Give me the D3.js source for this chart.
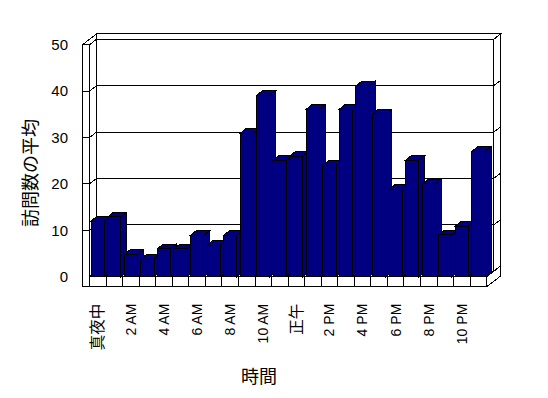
<!DOCTYPE html>
<meta charset="utf-8">
<style>
body { margin: 0; background: #fff; }
svg { display: block; }
.frame, .bar { shape-rendering: crispEdges; }
</style>
<body>
<svg id="chart"></svg>
<script src="https://d3js.org/d3.v7.min.js"></script>
<script>
// hours of the day (every other one gets a label)
var categories = ["真夜中", "1 AM", "2 AM", "3 AM", "4 AM", "5 AM", "6 AM", "7 AM", "8 AM", "9 AM", "10 AM", "11 AM",
                  "正午", "1 PM", "2 PM", "3 PM", "4 PM", "5 PM", "6 PM", "7 PM", "8 PM", "9 PM", "10 PM", "11 PM"];
// average visits per hour
var values = [12.0, 12.9, 4.8, 3.8, 6.0, 6.0, 8.9, 6.8, 8.9, 30.9, 39.1, 25.1,
              26.0, 36.1, 24.0, 36.1, 41.1, 35.1, 18.8, 25.1, 20.0, 9.0, 10.9, 27.0];
var yTicks = [0, 10, 20, 30, 40, 50];

var width = 548, height = 398;
var depth = {dx: 7, dy: -5.4};     // front plane -> back wall
var barDepth = {dx: 6, dy: -4.8};
var wallT = 7, floorT = 10;
var font = "'Liberation Sans', Arial, 'Noto Sans CJK JP', sans-serif";
var cjkFont = "'Noto Sans CJK JP', sans-serif";

var data = categories.map(function(c, i) { return {cat: c, v: values[i]}; });

var x = d3.scaleBand()
    .domain(categories)
    .range([89.5, 486.7])
    .paddingInner(0.2)
    .paddingOuter(0.1);

var y = d3.scaleLinear()
    .domain([0, 50])
    .range([276.7, 44.7]);

var svg = d3.select("#chart")
    .attr("width", width)
    .attr("height", height);

var x0 = x.range()[0], x1 = x.range()[1];
var yTop = y(50), yBase = y(0);
var dx = depth.dx, dy = depth.dy;

function poly(g, pts, fill) {
  return g.append("polygon")
    .attr("points", pts.map(function(p) { return p.join(","); }).join(" "))
    .attr("fill", fill)
    .attr("stroke", "#000")
    .attr("stroke-width", 1);
}

var frame = svg.append("g").attr("class", "frame");

// back wall face
poly(frame, [[x0 + dx, yTop + dy], [x1 + dx, yTop + dy], [x1 + dx, yBase + dy], [x0 + dx, yBase + dy]], "#fff");
// back wall top edge
poly(frame, [[x0 + dx, yTop + dy], [x1 + dx, yTop + dy], [x1 + 2 * dx, yTop + 2 * dy], [x0 - wallT + 2 * dx, yTop + 2 * dy]], "#fff");
// back wall right edge
poly(frame, [[x1 + dx, yTop + dy], [x1 + 2 * dx, yTop + 2 * dy], [x1 + 2 * dx, yBase + 2 * dy], [x1 + dx, yBase + dy]], "#fff");

// gridlines on back wall + little ticks on its right edge
yTicks.filter(function(t) { return t > 0 && t < 50; }).forEach(function(t) {
  frame.append("line")
    .attr("x1", x0 + dx).attr("x2", x1 + dx)
    .attr("y1", y(t) + dy).attr("y2", y(t) + dy)
    .attr("stroke", "#000");
  frame.append("line")
    .attr("x1", x1 + dx).attr("x2", x1 + 2 * dx)
    .attr("y1", y(t) + dy).attr("y2", y(t) + 2 * dy)
    .attr("stroke", "#000");
});

// left wall: top, inner side, front face
poly(frame, [[x0 - wallT, yTop], [x0, yTop], [x0 + dx, yTop + dy], [x0 - wallT + 2 * dx, yTop + 2 * dy]], "#fff");
poly(frame, [[x0, yTop], [x0 + dx, yTop + dy], [x0 + dx, yBase + dy], [x0, yBase]], "#fff");
poly(frame, [[x0 - wallT, yTop], [x0, yTop], [x0, yBase + floorT], [x0 - wallT, yBase + floorT]], "#fff");

yTicks.filter(function(t) { return t > 0 && t < 50; }).forEach(function(t) {
  frame.append("line")
    .attr("x1", x0 - wallT).attr("x2", x0)
    .attr("y1", y(t)).attr("y2", y(t))
    .attr("stroke", "#000");
  frame.append("line")
    .attr("x1", x0).attr("x2", x0 + dx)
    .attr("y1", y(t)).attr("y2", y(t) + dy)
    .attr("stroke", "#000");
});

// floor: top, front, right side
poly(frame, [[x0, yBase], [x1, yBase], [x1 + dx, yBase + dy], [x0 + dx, yBase + dy]], "#fff");
poly(frame, [[x0, yBase], [x1, yBase], [x1, yBase + floorT], [x0, yBase + floorT]], "#fff");
poly(frame, [[x1, yBase], [x1 + 2 * dx, yBase + 2 * dy], [x1 + 2 * dx, yBase + 2 * dy + floorT], [x1, yBase + floorT]], "#fff");

// category dividers on the floor edge
d3.range(1, categories.length).forEach(function(i) {
  var bx = x(categories[i]) - x.step() * x.paddingInner() / 2 - x.step() * 0.0;
  var b = x0 + i * x.step();
  frame.append("line")
    .attr("x1", b).attr("x2", b)
    .attr("y1", yBase).attr("y2", yBase + floorT)
    .attr("stroke", "#000");
});

// bars, left to right so each front hides the previous side
var bw = x.bandwidth();
var bars = svg.append("g").attr("class", "bar");
data.forEach(function(d) {
  var bx = x(d.cat), by = y(d.v);
  var g = bars.append("g");
  poly(g, [[bx + bw, by], [bx + bw + barDepth.dx, by + barDepth.dy], [bx + bw + barDepth.dx, yBase + barDepth.dy], [bx + bw, yBase]], "#000080");
  poly(g, [[bx, by], [bx + bw, by], [bx + bw + barDepth.dx, by + barDepth.dy], [bx + barDepth.dx, by + barDepth.dy]], "#000080");
  g.append("rect")
    .attr("x", bx).attr("y", by)
    .attr("width", bw).attr("height", yBase - by)
    .attr("fill", "#000080")
    .attr("stroke", "#000");
});

// y axis labels
var yAxis = d3.axisLeft(y).tickValues(yTicks).tickSize(0).tickPadding(0);
svg.append("g")
    .attr("transform", "translate(68,0)")
    .call(yAxis)
    .call(function(g) { g.select(".domain").remove(); })
    .selectAll("text")
    .attr("font-family", font)
    .attr("font-size", "15px")
    .attr("fill", "#000");

// x axis labels, rotated, every other hour
var xAxis = d3.axisBottom(x).tickSize(0).tickFormat(function(d, i) { return i % 2 === 0 ? d : ""; });
svg.append("g")
    .attr("transform", "translate(0," + (yBase + floorT + 17) + ")")
    .call(xAxis)
    .call(function(g) { g.select(".domain").remove(); })
    .selectAll("text")
    .attr("y", 0)
    .attr("dy", "0.35em")
    .attr("x", 0)
    .attr("transform", "rotate(-90)")
    .style("text-anchor", "end")
    .attr("font-family", function(d) { return /[^\x00-\x7F]/.test(d) ? cjkFont : font; })
    .attr("font-size", function(d) { return /[^\x00-\x7F]/.test(d) ? "15.5px" : "14px"; })
    .attr("fill", "#000");

// axis titles
svg.append("text")
    .attr("x", 259).attr("y", 375)
    .attr("text-anchor", "middle")
    .attr("dominant-baseline", "central")
    .attr("font-family", cjkFont)
    .attr("font-size", "18px")
    .text("時間");

svg.append("text")
    .attr("transform", "translate(29,173) rotate(-90)")
    .attr("text-anchor", "middle")
    .attr("dominant-baseline", "central")
    .attr("font-family", cjkFont)
    .attr("font-size", "18px")
    .text("訪問数の平均");
</script>
</body>
